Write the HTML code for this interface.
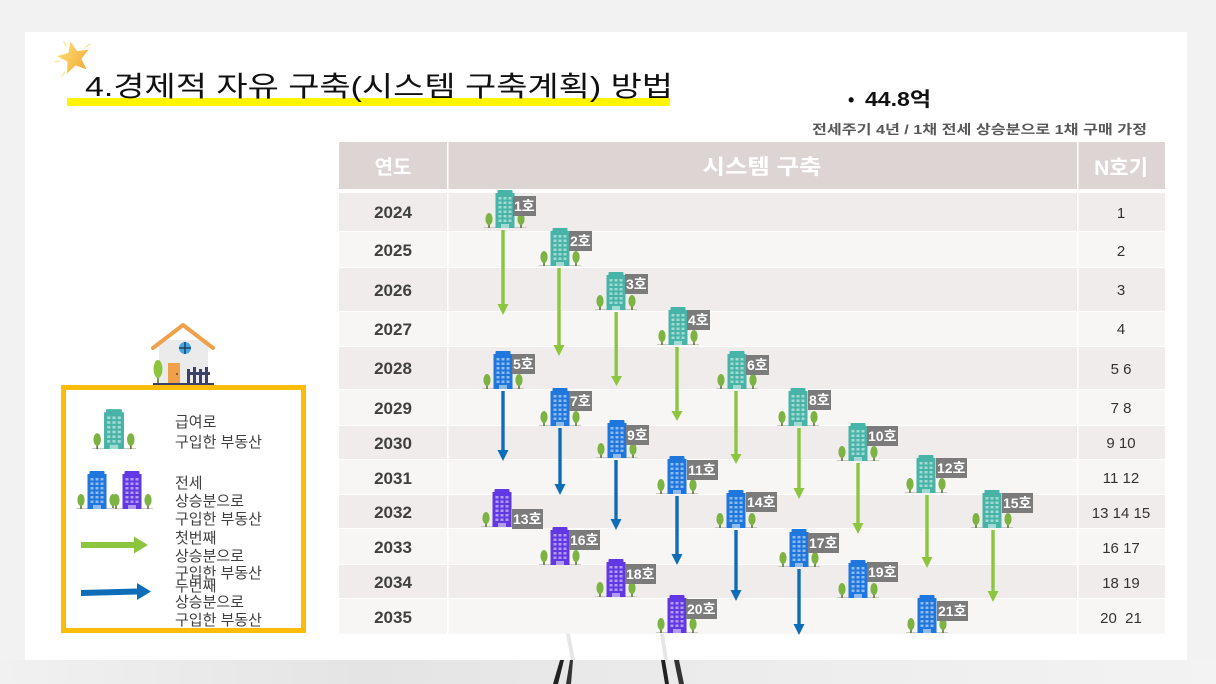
<!DOCTYPE html>
<html><head><meta charset="utf-8"><style>
html,body{margin:0;padding:0;background:#f2f2f2;}
svg{display:block;}
text{font-family:"Liberation Sans","Noto Sans CJK KR",sans-serif;}
.kr{font-family:"Noto Sans CJK KR","Liberation Sans",sans-serif;}
</style></head><body>
<svg width="1216" height="684" viewBox="0 0 1216 684" xmlns="http://www.w3.org/2000/svg">
<defs>
<linearGradient id="starg" x1="0" y1="0" x2="1" y2="1"><stop offset="0" stop-color="#ffe27a"/><stop offset="1" stop-color="#f2a533"/></linearGradient>
<linearGradient id="floor" x1="0" y1="0" x2="1" y2="0"><stop offset="0" stop-color="#f1f1f1"/><stop offset="0.3" stop-color="#e4e4e4"/><stop offset="0.6" stop-color="#ececec"/><stop offset="1" stop-color="#f3f3f3"/></linearGradient>
<g id="b">
<line x1="-21" y1="-0.5" x2="21" y2="-0.5" stroke="#c9c9c9" stroke-width="1"/>
<rect x="-7.5" y="-38" width="15" height="4" rx="1" fill="currentColor"/>
<rect x="-9.5" y="-35" width="19" height="35" fill="currentColor"/>
<g fill="#ffffff" fill-opacity="0.5">
<rect x="-6.5" y="-31" width="3" height="2.5"/><rect x="-1.5" y="-31" width="3" height="2.5"/><rect x="3.5" y="-31" width="3" height="2.5"/>
<rect x="-6.5" y="-26.5" width="3" height="2.5"/><rect x="-1.5" y="-26.5" width="3" height="2.5"/><rect x="3.5" y="-26.5" width="3" height="2.5"/>
<rect x="-6.5" y="-22" width="3" height="2.5"/><rect x="-1.5" y="-22" width="3" height="2.5"/><rect x="3.5" y="-22" width="3" height="2.5"/>
<rect x="-6.5" y="-17.5" width="3" height="2.5"/><rect x="-1.5" y="-17.5" width="3" height="2.5"/><rect x="3.5" y="-17.5" width="3" height="2.5"/>
<rect x="-6.5" y="-13" width="3" height="2.5"/><rect x="-1.5" y="-13" width="3" height="2.5"/><rect x="3.5" y="-13" width="3" height="2.5"/>
<rect x="-6.5" y="-8.5" width="3" height="2.5"/><rect x="-1.5" y="-8.5" width="3" height="2.5"/><rect x="3.5" y="-8.5" width="3" height="2.5"/>
<rect x="-4" y="-4" width="8" height="4"/>
</g>
<rect x="-16.8" y="-5" width="1.6" height="5" fill="#5d7a2a"/>
<ellipse cx="-16" cy="-9" rx="3.6" ry="6" fill="#7cb342"/>
<rect x="15.2" y="-5" width="1.6" height="5" fill="#5d7a2a"/>
<ellipse cx="16" cy="-9" rx="3.6" ry="6" fill="#7cb342"/>
</g>
</defs>

<!-- background -->
<rect x="0" y="0" width="1216" height="684" fill="#f2f2f2"/>
<rect x="0" y="660" width="1216" height="24" fill="url(#floor)"/>
<polygon points="553,684 560,660 564,660 558,684" fill="#222"/>
<polygon points="566,684 570,660 573,660 571,684" fill="#333"/>
<polygon points="661,660 665,660 669,684 665,684" fill="#222"/>
<polygon points="674,660 679,660 684,684 679,684" fill="#333"/>
<!-- card -->
<rect x="25" y="32" width="1162" height="628" fill="#ffffff"/>
<polygon points="566,634 570,634 575,660 571,660" fill="#e6e6e6"/>
<polygon points="660,634 664,634 668,660 664,660" fill="#e6e6e6"/>

<!-- star -->
<g stroke="#fbe7a0" stroke-width="1.5" stroke-linecap="round">
<line x1="64" y1="42" x2="66" y2="46"/><line x1="90" y1="44" x2="86" y2="47"/><line x1="55" y1="62" x2="59" y2="61"/><line x1="62" y1="76" x2="65" y2="72"/>
</g>
<polygon points="74,41 78.4,51.9 90.2,52.7 81.1,60.3 84,71.8 74,65.5 64,71.8 66.9,60.3 57.8,52.7 69.6,51.9" fill="url(#starg)" transform="rotate(-12 74 58)"/>

<!-- title -->
<rect x="67" y="98" width="603" height="8" fill="#fff500"/>
<text x="85" y="96" font-size="28" fill="#111" textLength="588" lengthAdjust="spacingAndGlyphs">4.경제적 자유 구축(시스템 구축계획) 방법</text>

<!-- top right -->
<text x="848" y="106" font-size="18" font-weight="bold" fill="#111">•</text>
<text x="865" y="106" font-size="20" font-weight="bold" fill="#111" textLength="66" lengthAdjust="spacingAndGlyphs">44.8억</text>
<text x="812" y="134" font-size="13" font-weight="bold" fill="#595959" textLength="335" lengthAdjust="spacingAndGlyphs">전세주기 4년 / 1채 전세 상승분으로 1채 구매 가정</text>

<!-- table header -->
<rect x="339" y="142" width="826" height="47" fill="#ddd5d4"/>
<rect x="447" y="142" width="1.5" height="492" fill="#ffffff"/>
<rect x="1077" y="142" width="1.5" height="492" fill="#ffffff"/>
<text x="393" y="174" font-size="20" font-weight="bold" fill="#ffffff" text-anchor="middle">연도</text>
<text x="762" y="174" font-size="21" font-weight="bold" fill="#ffffff" text-anchor="middle" textLength="119" lengthAdjust="spacingAndGlyphs">시스템 구축</text>
<text x="1121" y="175" font-size="21" font-weight="bold" fill="#ffffff" text-anchor="middle">N호기</text>

<!-- rows -->
<g>
<rect x="339" y="193" width="826" height="38" fill="#f0ecec"/>
<rect x="339" y="232" width="826" height="35" fill="#f8f6f5"/>
<rect x="339" y="268" width="826" height="43" fill="#f0ecec"/>
<rect x="339" y="312" width="826" height="34" fill="#f8f6f5"/>
<rect x="339" y="347" width="826" height="42" fill="#f0ecec"/>
<rect x="339" y="390" width="826" height="35" fill="#f8f6f5"/>
<rect x="339" y="426" width="826" height="33" fill="#f0ecec"/>
<rect x="339" y="460" width="826" height="34" fill="#f8f6f5"/>
<rect x="339" y="495" width="826" height="33" fill="#f0ecec"/>
<rect x="339" y="529" width="826" height="35" fill="#f8f6f5"/>
<rect x="339" y="565" width="826" height="33" fill="#f0ecec"/>
<rect x="339" y="599" width="826" height="35" fill="#f8f6f5"/>
</g>
<rect x="447" y="189" width="1.5" height="445" fill="#ffffff"/>
<rect x="1077" y="189" width="1.5" height="445" fill="#ffffff"/>

<g font-size="17" font-weight="bold" fill="#404040" text-anchor="middle">
<text x="393" y="218">2024</text>
<text x="393" y="256">2025</text>
<text x="393" y="296">2026</text>
<text x="393" y="335">2027</text>
<text x="393" y="374">2028</text>
<text x="393" y="414">2029</text>
<text x="393" y="449">2030</text>
<text x="393" y="484">2031</text>
<text x="393" y="518">2032</text>
<text x="393" y="553">2033</text>
<text x="393" y="588">2034</text>
<text x="393" y="623">2035</text>
</g>
<g font-size="15" fill="#333" text-anchor="middle">
<text x="1121" y="218">1</text>
<text x="1121" y="256">2</text>
<text x="1121" y="295">3</text>
<text x="1121" y="334">4</text>
<text x="1121" y="374">5 6</text>
<text x="1121" y="413">7 8</text>
<text x="1121" y="448">9 10</text>
<text x="1121" y="483">11 12</text>
<text x="1121" y="518">13 14 15</text>
<text x="1121" y="553">16 17</text>
<text x="1121" y="588">18 19</text>
<text x="1121" y="623" xml:space="preserve">20  21</text>
</g>

<!-- arrows green -->
<g fill="#8cc63f">
<rect x="501.3" y="230" width="3.4" height="76"/><polygon points="497.5,304 508.5,304 503,315"/>
<rect x="557.3" y="268" width="3.4" height="79"/><polygon points="553.5,345 564.5,345 559,356"/>
<rect x="614.5" y="312" width="3.4" height="66"/><polygon points="611,376 622,376 616.5,386"/>
<rect x="675.3" y="347" width="3.4" height="66"/><polygon points="671.5,411 682.5,411 677,421"/>
<rect x="734.3" y="391" width="3.4" height="65"/><polygon points="730.5,454 741.5,454 736,464"/>
<rect x="797.3" y="428" width="3.4" height="62"/><polygon points="793.5,488 804.5,488 799,499"/>
<rect x="856.3" y="463" width="3.4" height="62"/><polygon points="852.5,523 863.5,523 858,534"/>
<rect x="925.3" y="495" width="3.4" height="64"/><polygon points="921.5,557 932.5,557 927,568"/>
<rect x="991.3" y="530" width="3.4" height="63"/><polygon points="987.5,591 998.5,591 993,602"/>
</g>
<!-- arrows blue -->
<g fill="#0e6db8">
<rect x="501.3" y="391" width="3.4" height="61"/><polygon points="497.5,450 508.5,450 503,461"/>
<rect x="558.3" y="428" width="3.4" height="58"/><polygon points="554.5,484 565.5,484 560,495"/>
<rect x="614.3" y="460" width="3.4" height="61"/><polygon points="610.5,519 621.5,519 616,530"/>
<rect x="675.3" y="496" width="3.4" height="60"/><polygon points="671.5,554 682.5,554 677,565"/>
<rect x="734.3" y="530" width="3.4" height="62"/><polygon points="730.5,590 741.5,590 736,601"/>
<rect x="797.3" y="569" width="3.4" height="57"/><polygon points="793.5,624 804.5,624 799,635"/>
</g>

<!-- buildings -->
<use href="#b" x="505" y="228" color="#48b4a8"/>
<use href="#b" x="560" y="266" color="#48b4a8"/>
<use href="#b" x="616" y="310" color="#48b4a8"/>
<use href="#b" x="678" y="345" color="#48b4a8"/>
<use href="#b" x="503" y="389" color="#1f76dd"/>
<use href="#b" x="737" y="389" color="#48b4a8"/>
<use href="#b" x="560" y="426" color="#1f76dd"/>
<use href="#b" x="798" y="426" color="#48b4a8"/>
<use href="#b" x="617" y="458" color="#1f76dd"/>
<use href="#b" x="858" y="461" color="#48b4a8"/>
<use href="#b" x="677" y="494" color="#1f76dd"/>
<use href="#b" x="926" y="493" color="#48b4a8"/>
<use href="#b" x="502" y="527" color="#6238e4"/>
<use href="#b" x="736" y="528" color="#1f76dd"/>
<use href="#b" x="992" y="528" color="#48b4a8"/>
<use href="#b" x="560" y="565" color="#6238e4"/>
<use href="#b" x="799" y="567" color="#1f76dd"/>
<use href="#b" x="616" y="597" color="#6238e4"/>
<use href="#b" x="858" y="598" color="#1f76dd"/>
<use href="#b" x="677" y="633" color="#6238e4"/>
<use href="#b" x="927" y="633" color="#1f76dd"/>

<!-- labels -->
<g fill="#7b7b7b">
<rect x="513" y="196" width="23" height="20"/>
<rect x="569" y="231" width="23" height="20"/>
<rect x="625" y="274" width="23" height="20"/>
<rect x="687" y="310" width="23" height="20"/>
<rect x="512" y="354" width="23" height="20"/>
<rect x="746" y="355" width="23" height="20"/>
<rect x="569" y="391" width="23" height="20"/>
<rect x="808" y="390" width="23" height="20"/>
<rect x="626" y="425" width="23" height="20"/>
<rect x="867" y="426" width="31" height="20"/>
<rect x="687" y="460" width="31" height="20"/>
<rect x="936" y="458" width="31" height="20"/>
<rect x="512" y="509" width="31" height="20"/>
<rect x="746" y="492" width="31" height="20"/>
<rect x="1002" y="493" width="31" height="20"/>
<rect x="569" y="530" width="31" height="20"/>
<rect x="808" y="533" width="31" height="20"/>
<rect x="625" y="564" width="31" height="20"/>
<rect x="867" y="562" width="31" height="20"/>
<rect x="686" y="599" width="31" height="20"/>
<rect x="937" y="601" width="31" height="20"/>
</g>
<g font-size="14" font-weight="bold" fill="#ffffff">
<text x="514" y="211">1호</text>
<text x="570" y="246">2호</text>
<text x="626" y="289">3호</text>
<text x="688" y="325">4호</text>
<text x="513" y="369">5호</text>
<text x="747" y="370">6호</text>
<text x="570" y="406">7호</text>
<text x="809" y="405">8호</text>
<text x="627" y="440">9호</text>
<text x="868" y="441">10호</text>
<text x="688" y="475">11호</text>
<text x="937" y="473">12호</text>
<text x="513" y="524">13호</text>
<text x="747" y="507">14호</text>
<text x="1003" y="508">15호</text>
<text x="570" y="545">16호</text>
<text x="809" y="548">17호</text>
<text x="626" y="579">18호</text>
<text x="868" y="577">19호</text>
<text x="687" y="614">20호</text>
<text x="938" y="616">21호</text>
</g>

<!-- house icon -->
<rect x="159" y="340" width="49" height="44" fill="#ebebeb"/>
<polyline points="153,348 183,325 213,348" fill="none" stroke="#f0a04b" stroke-width="4" stroke-linejoin="round" stroke-linecap="round"/>
<circle cx="185" cy="348" r="6" fill="#3fa9e0"/>
<line x1="185" y1="342" x2="185" y2="354" stroke="#2b3a5a" stroke-width="1.5"/>
<line x1="179" y1="348" x2="191" y2="348" stroke="#2b3a5a" stroke-width="1.5"/>
<rect x="168" y="363" width="12" height="21" fill="#f0a04b"/>
<circle cx="177" cy="374" r="0.9" fill="#333"/>
<rect x="157.2" y="372" width="1.6" height="12" fill="#5d7a2a"/>
<ellipse cx="158" cy="369" rx="4.5" ry="9" fill="#8cc63f"/>
<g fill="#3b4068">
<rect x="187" y="372" width="23" height="3"/>
<rect x="187" y="369" width="3" height="15"/><rect x="193" y="367" width="3" height="17"/><rect x="199" y="369" width="3" height="15"/><rect x="205" y="367" width="3" height="17"/>
</g>
<rect x="153" y="383" width="61" height="2" fill="#3b4068"/>

<!-- legend box -->
<rect x="63.5" y="387.5" width="240" height="243" fill="#ffffff" stroke="#fbbd0a" stroke-width="5"/>
<use href="#b" x="114" y="449" color="#48b4a8" transform="translate(114 449) scale(1.05) translate(-114 -449)"/>
<use href="#b" x="97" y="509" color="#1f76dd"/>
<use href="#b" x="132" y="509" color="#6238e4"/>
<g fill="#8cc63f">
<rect x="81" y="542" width="55" height="6"/>
<polygon points="134,536.5 148,545 134,553.5"/>
</g>
<g fill="#0e6db8">
<polygon points="81,590 138,588.5 138,594.5 81,596"/>
<polygon points="137,583 151,591.5 137,600"/>
</g>
<g class="kr" font-size="15" fill="#404040">
<text x="175" y="427">급여로</text>
<text x="175" y="447">구입한 부동산</text>
<text x="175" y="488">전세</text>
<text x="175" y="506">상승분으로</text>
<text x="175" y="524">구입한 부동산</text>
<text x="175" y="543">첫번째</text>
<text x="175" y="561">상승분으로</text>
<text x="175" y="578">구입한 부동산</text>
<text x="175" y="591">두번째</text>
<text x="175" y="607">상승분으로</text>
<text x="175" y="625">구입한 부동산</text>
</g>
</svg>
</body></html>
